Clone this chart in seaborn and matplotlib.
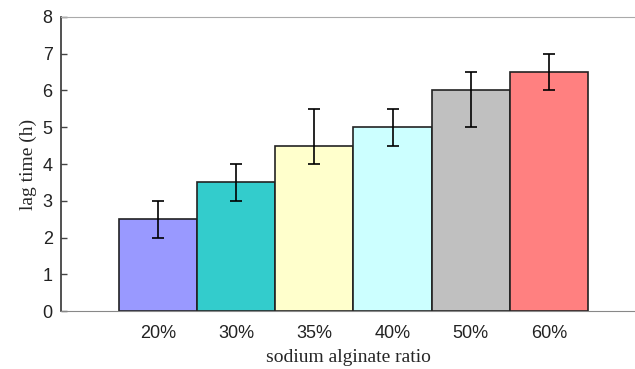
import matplotlib
matplotlib.use("Agg")
import matplotlib.pyplot as plt
import seaborn as sns
import pandas as pd
import numpy as np

categories = ["20%", "30%", "35%", "40%", "50%", "60%"]
lag_time = [2.5, 3.5, 4.5, 5.0, 6.0, 6.5]
err_low = [0.5, 0.5, 0.5, 0.5, 1.0, 0.5]
err_high = [0.5, 0.5, 1.0, 0.5, 0.5, 0.5]
colors = ["#9999ff", "#33cccc", "#ffffcc", "#ccffff", "#c0c0c0", "#ff8080"]
y_ticks = [0, 1, 2, 3, 4, 5, 6, 7, 8]

sns.set_style("white")
fig = plt.figure(figsize=(6.35, 3.69), dpi=100)
ax = fig.add_axes([0.096, 0.157, 0.904, 0.797])

df = pd.DataFrame({"ratio": categories, "lag": lag_time})
sns.barplot(data=df, x="ratio", y="lag", hue="ratio", palette=colors,
            saturation=1, width=1.0, edgecolor="#222222", linewidth=1.2,
            legend=False, errorbar=None, ax=ax, zorder=2)
ax.errorbar(np.arange(len(categories)), lag_time, yerr=[err_low, err_high],
            fmt="none", ecolor="black", elinewidth=1.2, capsize=4, capthick=1.2, zorder=3)

ax.set_xlim(-1.24, 6.1)
ax.set_ylim(0, 8)
ax.set_yticks(y_ticks)
ax.tick_params(axis="y", direction="in", length=4, width=1, color="#444444",
               labelsize=13, pad=6, left=True)
ax.tick_params(axis="x", length=0, labelsize=13, pad=10)
for lab in ax.get_xticklabels() + ax.get_yticklabels():
    lab.set_fontfamily("Liberation Sans")
    lab.set_color("#222222")

ax.set_xlabel("sodium alginate ratio", fontfamily="Liberation Serif", fontsize=14, labelpad=5)
ax.set_ylabel("lag time (h)", fontfamily="Liberation Serif", fontsize=14, labelpad=4)

ax.spines["left"].set_color("#333333")
ax.spines["left"].set_linewidth(1.2)
ax.spines["top"].set_color("#aaaaaa")
ax.spines["bottom"].set_color("#888888")
ax.spines["right"].set_visible(False)

fig.savefig("out.png", dpi=100)
